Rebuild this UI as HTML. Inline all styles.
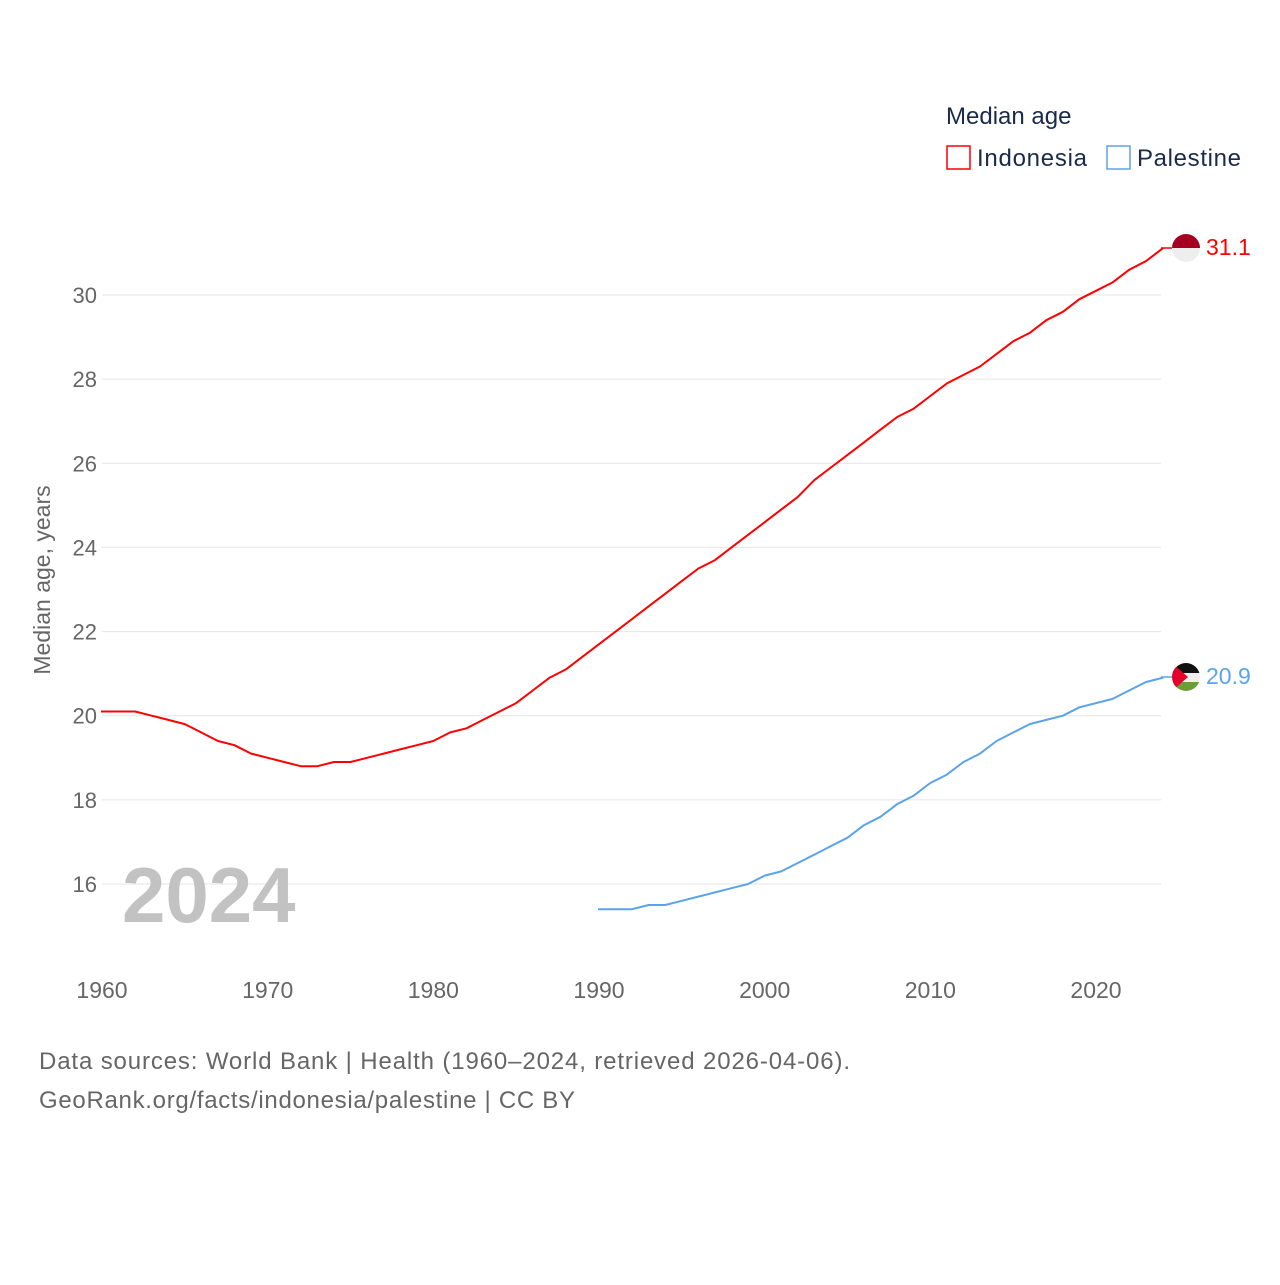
<!DOCTYPE html>
<html><head><meta charset="utf-8">
<style>
html,body{margin:0;padding:0;background:#fff;}
svg text{font-family:"Liberation Sans",sans-serif;}
</style></head>
<body>
<svg id="chart" width="1280" height="1280" xmlns="http://www.w3.org/2000/svg">
<defs>
<clipPath id="c1"><circle cx="1186" cy="248" r="14"/></clipPath>
<clipPath id="c2"><circle cx="1186" cy="677" r="14"/></clipPath>
</defs>
<g id="grid"></g>
<g id="yticks"></g>
<g id="xticks"></g>
<text transform="translate(50,580) rotate(-90)" text-anchor="middle" font-size="23" fill="#666">Median age, years</text>
<text x="122" y="922" font-size="78" font-weight="bold" fill="#c2c2c2">2024</text>
<g id="series"></g>
<line x1="1161" x2="1172" y1="248" y2="248" stroke="#f00" stroke-width="1.5"/>
<line x1="1161" x2="1172" y1="677" y2="677" stroke="#5ba3ea" stroke-width="1.5"/>
<g clip-path="url(#c1)">
<rect x="1172" y="234" width="28" height="14" fill="#a50021"/>
<rect x="1172" y="248" width="28" height="14" fill="#eee"/>
</g>
<g clip-path="url(#c2)">
<rect x="1172" y="663" width="28" height="10" fill="#111"/>
<rect x="1172" y="673" width="28" height="9" fill="#eee"/>
<rect x="1172" y="682" width="28" height="10" fill="#6a9e3a"/>
<polygon points="1172,663 1188,677 1172,691" fill="#e4002b"/>
</g>
<text x="1206" y="255" font-size="23" fill="#f00">31.1</text>
<text x="1206" y="684" font-size="23" fill="#5ba3ea">20.9</text>
<g>
<text x="946" y="124" font-size="24" fill="#1a2a4a">Median age</text>
<rect x="947" y="146" width="23" height="23" fill="none" stroke="#f00" stroke-width="1.5"/>
<text x="977" y="166" font-size="24" fill="#1a2a4a" textLength="110">Indonesia</text>
<rect x="1107" y="146" width="23" height="23" fill="none" stroke="#5ba3ea" stroke-width="1.5"/>
<text x="1137" y="166" font-size="24" fill="#1a2a4a" textLength="104">Palestine</text>
</g>
<text x="39" y="1069" font-size="24" fill="#666" textLength="811">Data sources: World Bank | Health (1960–2024, retrieved 2026-04-06).</text>
<text x="39" y="1108" font-size="24" fill="#666" textLength="536">GeoRank.org/facts/indonesia/palestine | CC BY</text>
</svg>
<script>
const indoYears = [];
for (let y = 1960; y <= 2024; y++) indoYears.push(y);
const indonesia = [20.1,20.1,20.1,20.0,19.9,19.8,19.6,19.4,19.3,19.1,19.0,18.9,18.8,18.8,18.9,18.9,19.0,19.1,19.2,19.3,19.4,19.6,19.7,19.9,20.1,20.3,20.6,20.9,21.1,21.4,21.7,22.0,22.3,22.6,22.9,23.2,23.5,23.7,24.0,24.3,24.6,24.9,25.2,25.6,25.9,26.2,26.5,26.8,27.1,27.3,27.6,27.9,28.1,28.3,28.6,28.9,29.1,29.4,29.6,29.9,30.1,30.3,30.6,30.8,31.1];
const palYears = [];
for (let y = 1990; y <= 2024; y++) palYears.push(y);
const palestine = [15.4,15.4,15.4,15.5,15.5,15.6,15.7,15.8,15.9,16.0,16.2,16.3,16.5,16.7,16.9,17.1,17.4,17.6,17.9,18.1,18.4,18.6,18.9,19.1,19.4,19.6,19.8,19.9,20.0,20.2,20.3,20.4,20.6,20.8,20.9];
const yTicks = [16,18,20,22,24,26,28,30];
const xTicks = [1960,1970,1980,1990,2000,2010,2020];

const NS = "http://www.w3.org/2000/svg";
const xs = y => 102 + (y - 1960) * (994 / 60);
const ys = v => 884 - (v - 16) * (589 / 14);
function mk(tag, attrs, parent) {
  const e = document.createElementNS(NS, tag);
  for (const k in attrs) e.setAttribute(k, attrs[k]);
  parent.appendChild(e);
  return e;
}
const grid = document.getElementById('grid');
const yt = document.getElementById('yticks');
yTicks.forEach(v => {
  const l = mk('line', {x1: 102, x2: 1161, y1: ys(v), y2: ys(v), stroke: '#e6e6e6', 'stroke-width': 1}, grid);
  
  
  const t = mk('text', {x: 97, y: ys(v) + 8, 'text-anchor': 'end', 'font-size': 22, fill: '#666'}, yt);
  t.textContent = v;
  
  
});
const xt = document.getElementById('xticks');
xTicks.forEach(y => {
  const t = mk('text', {x: xs(y), y: 998, 'text-anchor': 'middle', 'font-size': 23, fill: '#666'}, xt);
  t.textContent = y;
  
  
});
const sg = document.getElementById('series');
function line(years, vals, color, name) {
  const d = years.map((y, i) => (i ? 'L' : 'M') + xs(y).toFixed(1) + ',' + ys(vals[i]).toFixed(1)).join('');
  const p = mk('path', {d: d, fill: 'none', stroke: color, 'stroke-width': 2, 'stroke-linejoin': 'round', 'stroke-linecap': 'square'}, sg);
  
  
}
line(indoYears, indonesia, '#f00', 'indonesia-line');
line(palYears, palestine, '#5ba3ea', 'palestine-line');
</script>
</body></html>
